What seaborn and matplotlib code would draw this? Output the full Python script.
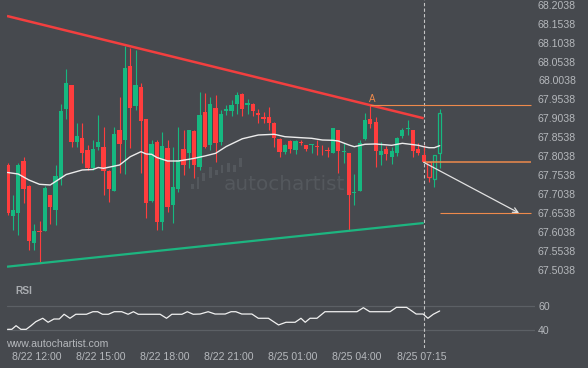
import numpy as np
import matplotlib
matplotlib.use("Agg")
import matplotlib.pyplot as plt
import seaborn as sns

# 15 min candles, index 0 = leftmost bar; last three are the hollow "future" bars
opens = [67.7809, 67.6471, 67.6542, 67.7914, 67.7254, 67.5758, 67.6067, 67.6075, 67.7017, 67.6621,
         67.7458, 67.9286, 67.9919, 67.8423, 67.8529, 67.8204, 67.7737, 67.8276, 67.8291, 67.7658,
         67.7130, 67.8732, 67.8468, 68.0421, 67.9365, 67.9859, 67.9022, 67.6859, 67.8415, 67.6312,
         67.8257, 67.6761, 67.7183, 67.8239, 67.8117, 67.8706, 67.7764, 67.9207, 67.8328, 67.9312,
         67.8407, 67.9233, 67.9233, 67.9418, 67.9682, 67.9384, 67.9418, 67.9181, 67.9075, 67.9075,
         67.8917, 67.8495, 67.8152, 67.8442, 67.8204, 67.8415, 67.8336, 67.8336, 67.8310, 67.8270,
         67.8217, 67.8133, 67.8732, 67.8152, 67.8117, 67.7070, 67.7122, 67.8487, 67.9014, 67.8951,
         67.8072, 67.8231, 67.8012, 67.8133, 67.8582, 67.8750, 67.8732, 67.8231, 67.8072, 67.7880,
         67.7447, 67.8133]
closes = [67.6534, 67.6621, 67.7809, 67.7183, 67.5811, 67.6067, 67.6041, 67.7202, 67.6692, 67.7518,
          67.9233, 67.9980, 67.8423, 67.8574, 67.8133, 67.7737, 67.8231, 67.8415, 67.7658, 67.7175,
          67.8619, 67.8363, 68.0368, 67.9320, 67.9919, 67.8977, 67.6814, 67.8363, 67.6312, 67.8310,
          67.6708, 67.7228, 67.7933, 67.7816, 67.8732, 67.7816, 67.9128, 67.8276, 67.9418, 67.8381,
          67.9154, 67.9286, 67.9392, 67.9655, 67.9286, 67.9436, 67.9233, 67.9128, 67.9022, 67.8917,
          67.8521, 67.8152, 67.8336, 67.8231, 67.8442, 67.8389, 67.8231, 67.8363, 67.8283, 67.8244,
          67.8191, 67.8777, 67.8186, 67.8178, 67.7017, 67.7096, 67.8397, 67.8996, 67.8898, 67.8178,
          67.8178, 67.8091, 67.8178, 67.8529, 67.8732, 67.8766, 67.8186, 67.8133, 67.7896, 67.7484,
          67.8072, 67.9173]
highs = [67.7861, 67.7017, 67.7861, 67.8020, 67.7270, 67.6252, 67.6339, 67.7254, 67.7030, 67.7809,
         67.9418, 68.0334, 67.9930, 67.8917, 67.8917, 67.8336, 67.8468, 67.9128, 67.8811, 67.7670,
         67.8803, 67.9611, 68.0956, 68.0903, 68.0843, 67.9964, 67.9035, 67.8468, 67.8468, 67.8687,
         67.8468, 67.8291, 67.8811, 67.8732, 67.8745, 67.8720, 67.9735, 67.9700, 67.9611, 67.9655,
         67.9260, 67.9392, 67.9524, 67.9735, 67.9695, 67.9550, 67.9444, 67.9286, 67.9207, 67.9339,
         67.8930, 67.8508, 67.8363, 67.8468, 67.8468, 67.8468, 67.8345, 67.8372, 67.8468, 67.8336,
         67.8291, 67.8790, 67.8745, 67.8381, 67.8130, 67.7571, 67.8468, 67.9173, 67.9384, 67.9067,
         67.8423, 67.8310, 67.8291, 67.8542, 67.8785, 67.8996, 67.8745, 67.8381, 67.8336, 67.7890,
         67.8082, 67.9278]
lows = [67.6489, 67.6093, 67.5962, 67.6806, 67.5566, 67.5566, 67.5231, 67.6060, 67.6252, 67.6225,
        67.7281, 67.9014, 67.8291, 67.8283, 67.7861, 67.7677, 67.7677, 67.8204, 67.7017, 67.6832,
        67.7120, 67.7597, 67.7571, 67.8249, 67.9260, 67.7605, 67.6402, 67.6845, 67.6093, 67.6093,
        67.6576, 67.6286, 67.7104, 67.7545, 67.7721, 67.7466, 67.7677, 67.8249, 67.8204, 67.7896,
        67.8336, 67.9128, 67.9101, 67.9154, 67.9101, 67.9154, 67.9101, 67.8909, 67.8909, 67.8732,
        67.8291, 67.8020, 67.8099, 67.8125, 67.8099, 67.8336, 67.8178, 67.8125, 67.8072, 67.8072,
        67.8027, 67.8120, 67.7605, 67.7869, 67.6075, 67.6753, 67.7110, 67.8475, 67.8785, 67.7764,
        67.7809, 67.7940, 67.7827, 67.8046, 67.8521, 67.8600, 67.8020, 67.8072, 67.7888, 67.7368,
        67.7220, 67.7721]
n_solid = 79

# moving average (white line)
ma_idx = [0, 2, 4, 6, 8, 10, 11, 14, 16, 17, 18, 21, 23, 25, 26, 27, 28, 30, 32, 34, 35, 37,
          39, 41, 44, 47, 50, 52, 55, 57, 59, 61, 62, 64, 65, 67, 69, 72, 74, 77, 78, 79, 80, 81]
ma_val = [67.7611, 67.7571, 67.7413, 67.7299, 67.7281, 67.7465, 67.7558, 67.7677, 67.7690, 67.7742,
          67.7721, 67.7809, 67.8027, 67.8159, 67.8099, 67.8091, 67.8006, 67.7914, 67.7914, 67.7959,
          67.7985, 67.8046, 67.8117, 67.8297, 67.8500, 67.8600, 67.8619, 67.8555, 67.8529, 67.8513,
          67.8468, 67.8460, 67.8442, 67.8336, 67.8291, 67.8355, 67.8363, 67.8328, 67.8381, 67.8328,
          67.8291, 67.8265, 67.8265, 67.8318]

# RSI panel
rsi_idx = [0.0, 0.8, 1.6, 2.5, 3.5, 4.4, 5.3, 6.6, 7.6, 8.7, 9.7, 10.6, 11.7, 12.8, 14.8, 16.0,
           16.9, 17.8, 18.9, 20.0, 21.4, 22.6, 23.6, 24.5, 28.6, 29.8, 30.8, 32.7, 33.7, 34.8,
           36.1, 37.6, 38.9, 40.8, 41.9, 42.8, 43.9, 45.8, 47.0, 48.9, 50.8, 52.2, 53.9, 55.0,
           55.8, 56.7, 58.0, 59.5, 65.5, 66.7, 67.9, 71.7, 72.9, 74.8, 76.6, 77.9, 78.8, 79.8, 81.0]
rsi_val = [40.8, 40.8, 43.8, 40.8, 40.8, 43.8, 47.1, 49.9, 46.6, 49.3, 49.3, 53.2, 49.9, 53.2,
           53.2, 55.3, 55.3, 53.2, 53.2, 55.3, 55.3, 53.2, 55.3, 53.2, 53.2, 49.9, 53.2, 53.2,
           55.3, 53.2, 53.4, 55.3, 53.4, 53.4, 55.3, 55.3, 53.4, 53.4, 49.9, 49.9, 44.4, 46.6,
           46.6, 49.9, 46.6, 49.9, 49.9, 55.3, 55.3, 58.6, 55.3, 55.3, 58.9, 58.9, 53.4, 53.4,
           49.9, 53.2, 55.9]

# triangle pattern + levels
resist_x = [-0.1, 78]
resist_y = [68.1740, 67.9041]
support_x = [-0.1, 78]
support_y = [67.5125, 67.6278]
level_a = 67.9384      # point A
level_now = 67.7880
level_target = 67.6540
a_idx = 68
now_idx = 78.0
target_idx = 95.9

price_ticks = [68.2038, 68.1538, 68.1038, 68.0538, 68.0038, 67.9538, 67.9038, 67.8538,
               67.8038, 67.7538, 67.7038, 67.6538, 67.6038, 67.5538, 67.5038]
price_labels = ["68.2038", "68.1538", "68.1038", "68.0538", "68.0038", "67.9538", "67.9038",
                "67.8538", "67.8038", "67.7538", "67.7038", "67.6538", "67.6038", "67.5538",
                "67.5038"]
time_pos = [5.5, 17.5, 29.5, 41.5, 53.5, 65.5, 77.7]
time_labels = ["8/22 12:00", "8/22 15:00", "8/22 18:00", "8/22 21:00",
               "8/25 01:00", "8/25 04:00", "8/25 07:15"]

# little logo bars behind the watermark
logo_idx = [34.6, 35.7, 36.8, 38.0, 39.1, 40.2, 41.5, 42.5, 43.6]
logo_lo = [67.7175, 67.7175, 67.7386, 67.7465, 67.7544, 67.7597, 67.7624, 67.7624, 67.7756]
logo_hi = [67.7307, 67.7492, 67.7597, 67.7756, 67.7676, 67.7808, 67.7861, 67.7808, 67.7993]

BG = "#46494e"
RED = "#ff3d3d"
GREEN = "#16b880"
TXT = "#b5b8bc"
ORANGE = "#ee8a4c"

sns.set_theme(style="dark", rc={"axes.facecolor": BG, "figure.facecolor": BG,
                                "axes.edgecolor": BG, "grid.color": BG})
plt.rcParams["font.family"] = ["Liberation Sans", "DejaVu Sans"]

fig = plt.figure(figsize=(5.88, 3.68), dpi=100)
W, H = 588.0, 368.0
ax = fig.add_axes([7 / W, 90 / H, 528 / W, 278 / H])
ax2 = fig.add_axes([7 / W, 20 / H, 528 / W, 70 / H])
xlim = (-0.1, 98.87)

# watermark
ax.bar(logo_idx, np.array(logo_hi) - np.array(logo_lo), bottom=logo_lo, width=0.55,
       color="#54585d", linewidth=0, zorder=1)
fig.text(284.5 / W, 1 - 185 / H, "autochartist", fontsize=14.4, color="#54585d",
         family="DejaVu Sans", ha="center", va="center", zorder=1)

# candles
o = np.array(opens); c = np.array(closes); h = np.array(highs); l = np.array(lows)
idx = np.arange(len(o))
col = np.where(c >= o, GREEN, RED)
body_lo = np.minimum(o, c)
body_hi = np.maximum(o, c)
body_h = np.maximum(body_hi - body_lo, 0.0026)
solid = idx < n_solid
hol = ~solid
ax.vlines(idx[solid], l[solid], h[solid], colors=col[solid], lw=0.8, zorder=3)
ax.bar(idx[solid], body_h[solid], bottom=body_lo[solid], width=0.8, color=col[solid],
       linewidth=0, zorder=3)
ax.vlines(idx[hol], body_hi[hol], h[hol], colors=col[hol], lw=0.8, zorder=3)
ax.vlines(idx[hol], l[hol], body_lo[hol], colors=col[hol], lw=0.8, zorder=3)
ax.bar(idx[hol], body_h[hol], bottom=body_lo[hol], width=0.62, facecolor="none",
       edgecolor=list(col[hol]), linewidth=0.9, zorder=3)

# moving average
sns.lineplot(x=ma_idx, y=ma_val, ax=ax, color="#ececec", lw=1.0, zorder=4)

# triangle lines
ax.plot(resist_x, resist_y, color="#f23f3f", lw=1.8, zorder=5, solid_capstyle="butt")
ax.plot(support_x, support_y, color="#1db580", lw=1.6, zorder=5, solid_capstyle="butt")

# levels and forecast arrow
ax.hlines(level_a, a_idx, 98.07, color=ORANGE, lw=0.8, zorder=5)
ax.hlines(level_now, now_idx, 98.07, color=ORANGE, lw=1.1, zorder=5)
ax.hlines(level_target, 81, 98.07, color=ORANGE, lw=0.8, zorder=5)
ax.annotate("", xy=(target_idx, level_target), xytext=(now_idx, level_now),
            arrowprops=dict(arrowstyle="->", color="#e2e2e2", lw=0.9,
                            shrinkA=0, shrinkB=0, mutation_scale=9), zorder=6)
ax.text(a_idx + 0.3, level_a + 0.0045, "A", color=ORANGE, fontsize=7,
        ha="center", va="bottom", zorder=6)

for a in (ax, ax2):
    a.axvline(now_idx, color="#c4c4c4", lw=0.8, ls=(0, (3, 2)), zorder=2)
    a.set_xlim(*xlim)
    for s in a.spines.values():
        s.set_visible(False)
    a.grid(False)

ax.set_ylim(68.2162 - 278 / 379, 68.2162)
ax.yaxis.tick_right()
ax.set_yticks(price_ticks)
ax.set_yticklabels(price_labels, ha="right")
ax.tick_params(axis="y", length=0, pad=41 * 0.72, labelsize=7.6, labelcolor=TXT)
ax.set_xticks([])

# RSI panel
ax2.set_ylim(25.43, 83.05)
ax2.axhline(60, color="#5c6065", lw=0.9, zorder=1)
ax2.axhline(40, color="#5c6065", lw=0.9, zorder=1)
sns.lineplot(x=rsi_idx, y=rsi_val, ax=ax2, color="#f0f0f0", lw=0.9, zorder=3)
ax2.yaxis.tick_right()
ax2.set_yticks([60, 40])
ax2.set_yticklabels(["60", "40"])
ax2.tick_params(axis="y", length=0, pad=2.2, labelsize=7.6, labelcolor=TXT)
ax2.set_xticks(time_pos)
ax2.set_xticklabels(time_labels)
ax2.tick_params(axis="x", length=0, pad=3.2, labelsize=7.6, labelcolor=TXT)
ax2.set_xlabel("")
ax2.set_ylabel("")
ax.set_xlabel("")
ax.set_ylabel("")

fig.text(15 / W, 1 - 291 / H, "RSI", fontsize=7.4, fontweight="bold", color="#a9acb0",
         va="center", ha="left")
fig.text(6 / W, 1 - 344 / H, "www.autochartist.com", fontsize=7.6, color=TXT,
         va="center", ha="left")

fig.savefig("out.png", dpi=100, facecolor=BG)
